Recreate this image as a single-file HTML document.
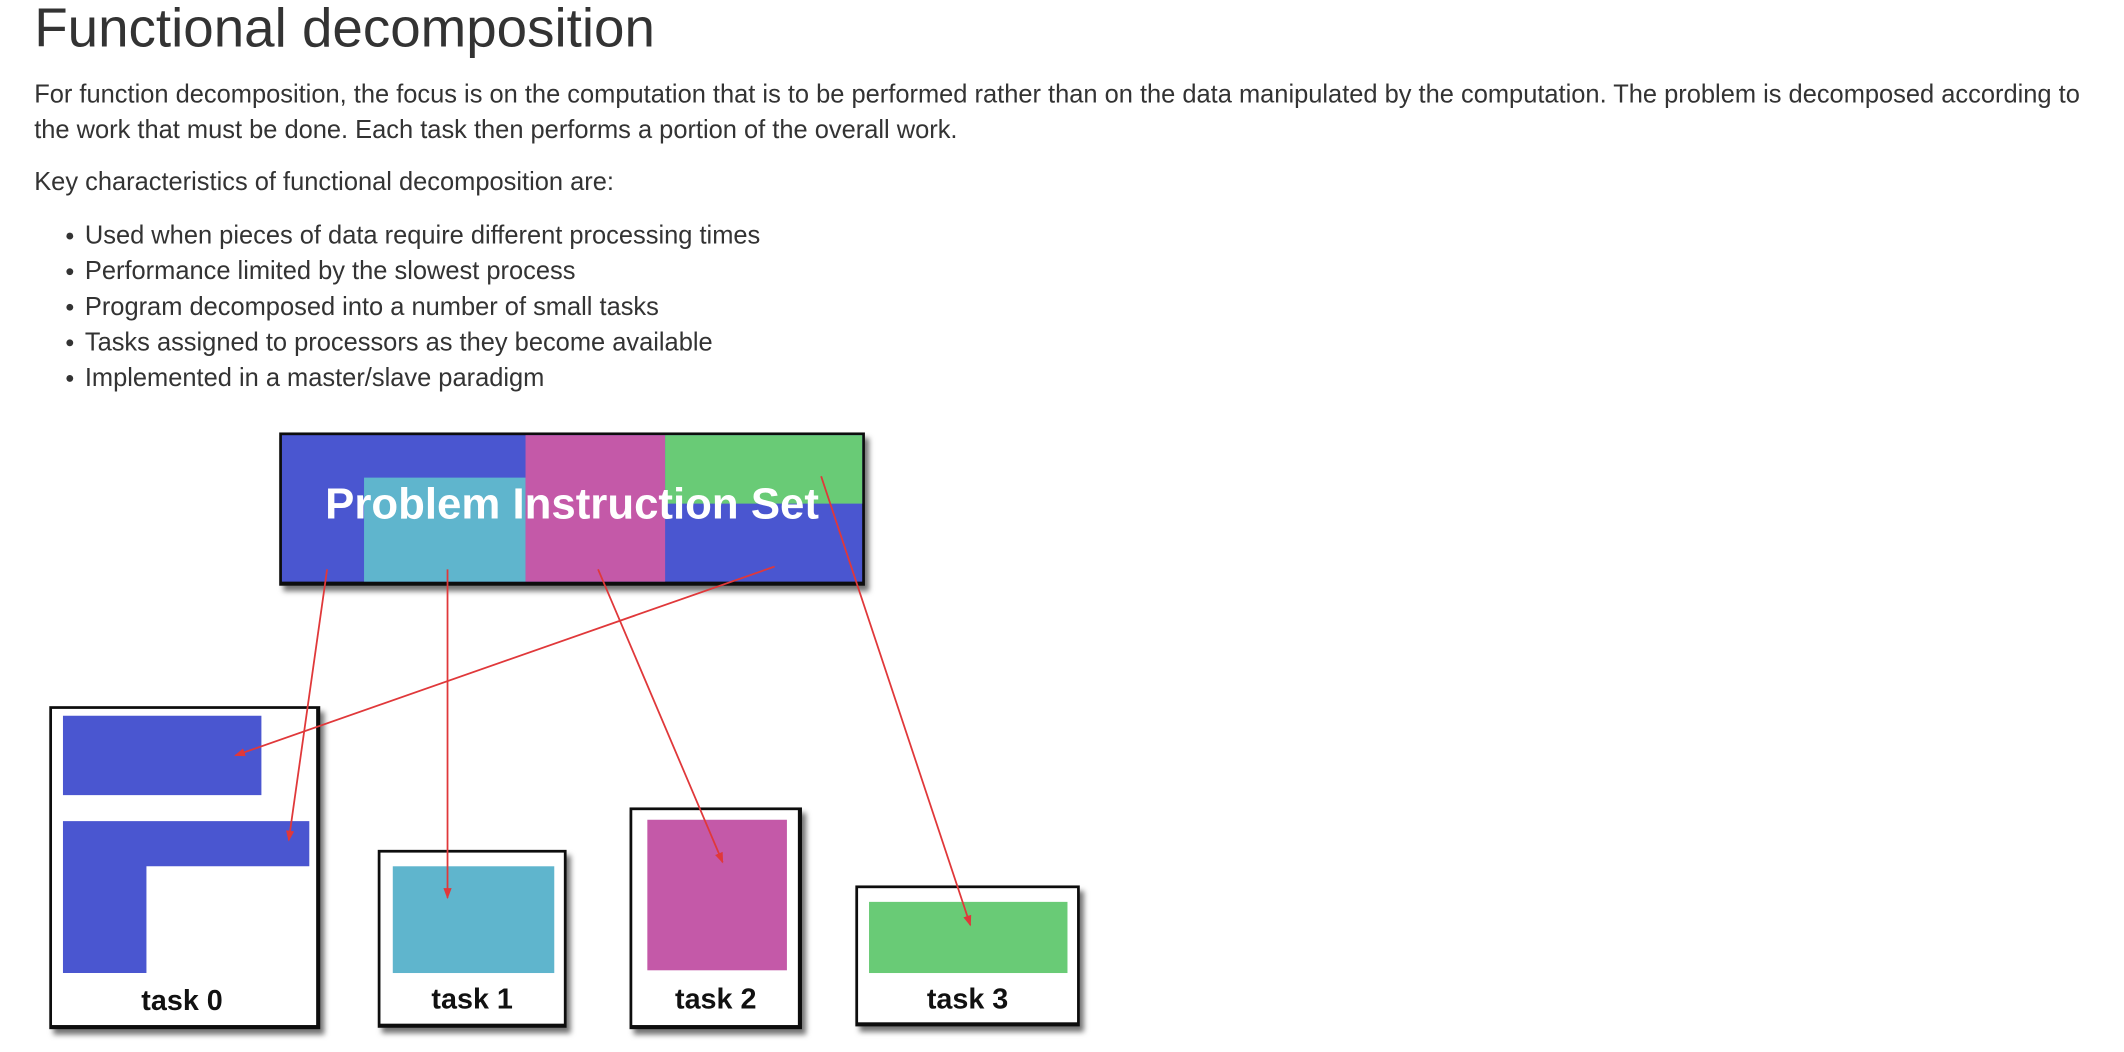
<!DOCTYPE html>
<html><head><meta charset="utf-8"><style>
html,body{margin:0;padding:0;background:#fff;}
svg{display:block;}
text{font-family:"Liberation Sans",Arial,sans-serif;}
</style></head><body>
<svg width="2124" height="1052" viewBox="0 0 1552 768.7" xmlns="http://www.w3.org/2000/svg">
<defs>
<filter id="sh" x="-10%" y="-10%" width="130%" height="130%"><feDropShadow dx="3" dy="4" stdDeviation="2" flood-color="#000" flood-opacity="0.55"/></filter>
<marker id="ar" markerWidth="8" markerHeight="8" refX="7" refY="4" orient="auto" markerUnits="userSpaceOnUse"><path d="M0,1 L8,4 L0,7 z" fill="#e0383a"/></marker>
</defs>
<text x="25" y="34" font-size="40" fill="#333">Functional decomposition</text>
<g font-size="18.6" fill="#333">
<text x="25" y="75">For function decomposition, the focus is on the computation that is to be performed rather than on the data manipulated by the computation. The problem is decomposed according to</text>
<text x="25" y="101">the work that must be done. Each task then performs a portion of the overall work.</text>
</g>
<text x="25" y="139" font-size="18.6" fill="#333">Key characteristics of functional decomposition are:</text>
<g font-size="18.6" fill="#333">
<circle cx="51" cy="172.5" r="2.5"/><text x="62" y="178">Used when pieces of data require different processing times</text>
<circle cx="51" cy="198.5" r="2.5"/><text x="62" y="204">Performance limited by the slowest process</text>
<circle cx="51" cy="224.5" r="2.5"/><text x="62" y="230">Program decomposed into a number of small tasks</text>
<circle cx="51" cy="250.5" r="2.5"/><text x="62" y="256">Tasks assigned to processors as they become available</text>
<circle cx="51" cy="276.5" r="2.5"/><text x="62" y="282">Implemented in a master/slave paradigm</text>
</g>
<g>
<rect x="204" y="316" width="428" height="112" fill="#111" filter="url(#sh)"/>
<rect x="206" y="318" width="424" height="107" fill="#4a56d0"/>
<rect x="266" y="349" width="118" height="76" fill="#5fb5cd"/>
<rect x="384" y="318" width="102" height="107" fill="#c459a8"/>
<rect x="486" y="318" width="144" height="50" fill="#69cb76"/>
<text x="418" y="379" font-size="32" font-weight="bold" fill="#fff" text-anchor="middle">Problem Instruction Set</text>
</g>
<g>
<rect x="36" y="516" width="198" height="236" fill="#111" filter="url(#sh)"/>
<rect x="38" y="518" width="193" height="231" fill="#fff"/>
<rect x="46" y="523" width="145" height="58" fill="#4a56d0"/>
<path d="M46,600 H226 V633 H107 V711 H46 Z" fill="#4a56d0"/>
<text x="133" y="738" font-size="21" font-weight="bold" fill="#111" text-anchor="middle">task 0</text>
</g>
<g>
<rect x="276" y="621" width="138" height="130" fill="#111" filter="url(#sh)"/>
<rect x="278" y="623" width="134" height="125" fill="#fff"/>
<rect x="287" y="633" width="118" height="78" fill="#5fb5cd"/>
<text x="345" y="737" font-size="21" font-weight="bold" fill="#111" text-anchor="middle">task 1</text>
</g>
<g>
<rect x="460" y="590" width="126" height="162" fill="#111" filter="url(#sh)"/>
<rect x="462" y="592" width="121" height="157" fill="#fff"/>
<rect x="473" y="599" width="102" height="110" fill="#c459a8"/>
<text x="523" y="737" font-size="21" font-weight="bold" fill="#111" text-anchor="middle">task 2</text>
</g>
<g>
<rect x="625" y="647" width="164" height="103" fill="#111" filter="url(#sh)"/>
<rect x="627" y="649" width="160" height="98" fill="#fff"/>
<rect x="635" y="659" width="145" height="52" fill="#69cb76"/>
<text x="707" y="737" font-size="21" font-weight="bold" fill="#111" text-anchor="middle">task 3</text>
</g>
<g stroke="#e0383a" stroke-width="1.3" fill="none" marker-end="url(#ar)">
<line x1="239" y1="416" x2="211" y2="614"/>
<line x1="327" y1="416" x2="327" y2="656"/>
<line x1="437" y1="416" x2="528" y2="630"/>
<line x1="566" y1="414" x2="172" y2="552"/>
<line x1="600" y1="348" x2="709" y2="676"/>
</g>
</svg>
</body></html>
